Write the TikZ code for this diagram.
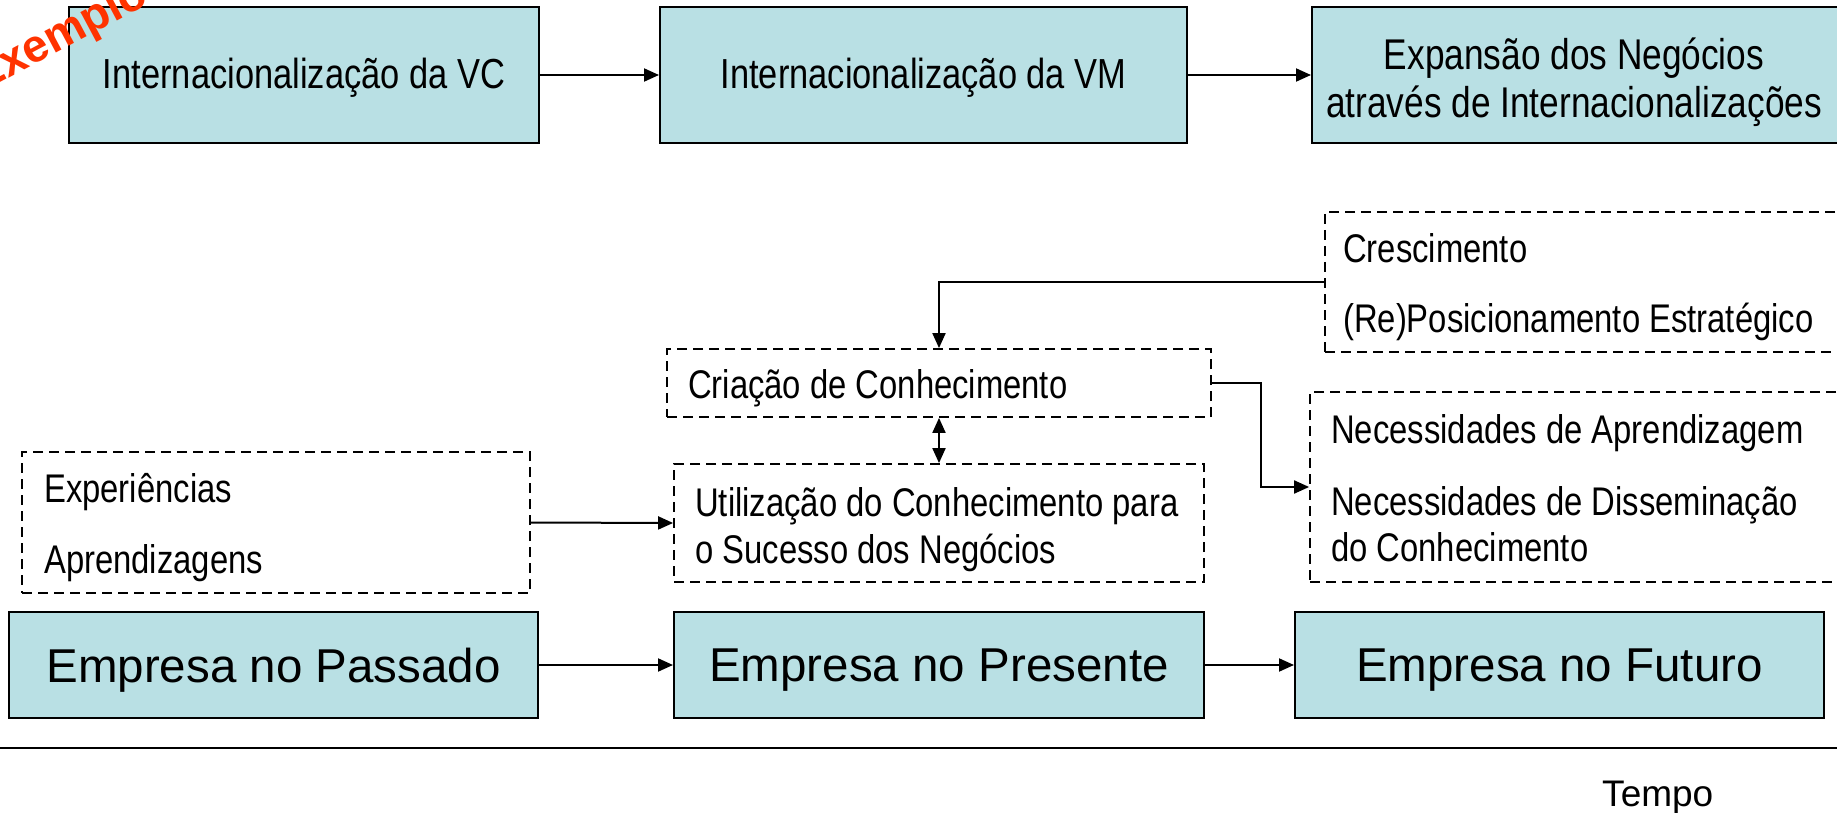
\documentclass[tikz,border=0pt]{standalone}
\usepackage{fontspec}
\setmainfont{Liberation Sans}
\newfontfamily\narrowfont[FakeStretch=0.82]{Liberation Sans}
\usetikzlibrary{arrows.meta}
\definecolor{boxblue}{RGB}{185,224,228}
\definecolor{stamp}{RGB}{255,51,0}
\tikzset{
  solidbox/.style={draw=black, fill=boxblue, line width=2pt, rectangle, inner sep=0pt},
  dashbox/.style={draw=black, line width=1.8pt, dash pattern=on 10pt off 6pt, rectangle, inner sep=0pt},
  toptext/.style={font=\narrowfont\fontsize{42}{47}\selectfont, align=center},
  bigtext/.style={font=\fontsize{47.5}{52}\selectfont},
  dtext/.style={font=\narrowfont\fontsize{40}{44}\selectfont, anchor=base west, inner sep=0pt},
  conn/.style={line width=2pt, -{Triangle[length=15pt,width=13pt]}},
  dconn/.style={line width=2pt, {Triangle[length=15pt,width=13pt]}-{Triangle[length=15pt,width=13pt]}},
}
\begin{document}
\begin{tikzpicture}[x=1pt, y=-1pt]
\useasboundingbox (0,0) rectangle (1837,813);
\fill[white] (0,0) rectangle (1837,813);
% top row
\node[solidbox, minimum width=470pt, minimum height=136pt] (v1) at (304,75) {};
\node[toptext] (v1t) at (304,78) {Internacionalização da VC};
\node[solidbox, minimum width=527pt, minimum height=136pt] (v2) at (923.5,75) {};
\node[toptext] (v2t) at (923.5,78) {Internacionalização da VM};
\node[solidbox, minimum width=526pt, minimum height=136pt] (v3) at (1575,75) {};
\node[toptext, font=\narrowfont\fontsize{43}{48}\selectfont] (v3t) at (1574,82) {Expansão dos Negócios\\através de Internacionalizações};
\draw[conn] (v1.east) -- (v2.west);
\draw[conn] (v2.east) -- (v3.west);
% stamp
\node[text=stamp, font=\bfseries\fontsize{46}{50}\selectfont, rotate=28, anchor=base west, inner sep=0pt] (stampt) at (-19,93) {Exemplo};
% dashed boxes
\node[dashbox, minimum width=513pt, minimum height=140pt] (cres) at (1581.5,282) {};
\node[dtext] (cres1) at (1343,262) {Crescimento};
\node[dtext] (cres2) at (1343,332) {(Re)Posicionamento Estratégico};
\node[dashbox, minimum width=544pt, minimum height=68pt] (crea) at (939,383) {};
\node[dtext] (creat) at (688,398) {Criação de Conhecimento};
\node[dashbox, minimum width=530pt, minimum height=118pt] (util) at (939,523) {};
\node[dtext] (util1) at (695,516) {Utilização do Conhecimento para};
\node[dtext] (util2) at (695,563) {o Sucesso dos Negócios};
\node[dashbox, minimum width=508pt, minimum height=141pt] (exp) at (276,522.5) {};
\node[dtext] (exp1) at (44,502) {Experiências};
\node[dtext] (exp2) at (44,573) {Aprendizagens};
\node[dashbox, minimum width=528pt, minimum height=190pt] (nec) at (1574,487) {};
\node[dtext] (nec1) at (1331,443) {Necessidades de Aprendizagem};
\node[dtext] (nec2) at (1331,515) {Necessidades de Disseminação};
\node[dtext] (nec3) at (1331,561) {do Conhecimento};
% bottom row
\node[solidbox, minimum width=529pt, minimum height=106pt] (p1) at (273.5,665) {};
\node[bigtext] (p1t) at (273.5,670) {Empresa no Passado};
\node[solidbox, minimum width=530pt, minimum height=106pt] (p2) at (939,665) {};
\node[bigtext] (p2t) at (939,670) {Empresa no Presente};
\node[solidbox, minimum width=529pt, minimum height=106pt] (p3) at (1559.5,665) {};
\node[bigtext] (p3t) at (1559.5,670) {Empresa no Futuro};
\draw[conn] (p1.east) -- (p2.west);
\draw[conn] (p2.east) -- (p3.west);
% connectors
\draw[conn] (cres.west) -| (crea.north);
\draw[dconn] (crea.south) -- (util.north);
\draw[conn] (crea.east) -- ++(49,0) |- (nec.west);
\draw[conn] (exp.east) -- (util.west);
% time axis
\coordinate (ax0) at (0,748);
\coordinate (ax1) at (1837,748);
\draw[line width=2.5pt] (ax0) -- (ax1);
\node[font=\fontsize{37}{40}\selectfont, anchor=base west, inner sep=0pt] (tempo) at (1602,806) {Tempo};
\end{tikzpicture}
\end{document}
